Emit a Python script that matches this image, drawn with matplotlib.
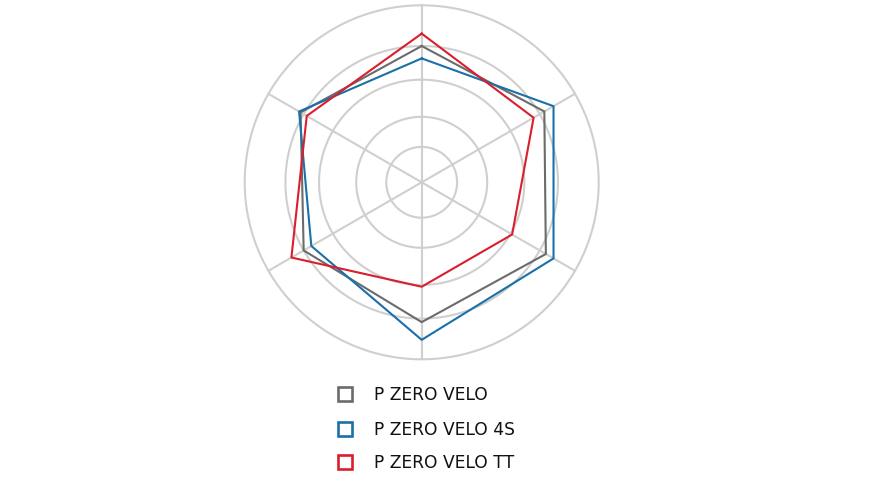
import numpy as np
import matplotlib
matplotlib.use('Agg')
import matplotlib.pyplot as plt

# Dữ liệu (thang 0-100, vòng ngoài = 100), thứ tự: trên, phải-trên, phải-dưới, dưới, trái-dưới, trái-trên
series_names = ['P ZERO VELO', 'P ZERO VELO 4S', 'P ZERO VELO TT']
velo = [77, 80, 81, 79, 77, 79]
velo_4s = [70, 86, 86, 89, 72, 80]
velo_tt = [84, 73, 59, 59, 85, 75]
ring_levels = [20, 37, 58, 77, 100]

colors = ['#6b6b6b', '#1a70a8', '#d91e2d']
values = [velo, velo_4s, velo_tt]

W, H = 870, 489
fig = plt.figure(figsize=(W / 100, H / 100), dpi=100)

cx, cy, R = 421.7, 183.3, 177
ax = fig.add_axes([(cx - R) / W, (H - cy - R) / H, 2 * R / W, 2 * R / H], projection='polar')
ax.set_theta_offset(np.pi / 2)
ax.set_theta_direction(-1)

n = len(velo)
angles = np.arange(n) * 2 * np.pi / n
closed = np.append(angles, angles[0])

# Lưới
grid_col = '#cfcfcf'
th = np.linspace(0, 2 * np.pi, 400)
for r in ring_levels:
    ax.plot(th, np.full_like(th, r), color=grid_col, lw=1.5, zorder=1, clip_on=False)
for a in angles:
    ax.plot([a, a], [0, ring_levels[-1]], color=grid_col, lw=1.5, zorder=1, clip_on=False)

for vals, c in zip(values, colors):
    v = np.append(vals, vals[0])
    ax.plot(closed, v, color=c, lw=1.5, zorder=3)

ax.set_ylim(0, ring_levels[-1])
ax.grid(False)
ax.set_xticks([])
ax.set_yticks([])
ax.spines['polar'].set_visible(False)

# Chú thích
lax = fig.add_axes([0, 0, 1, 1])
lax.set_xlim(0, W)
lax.set_ylim(H, 0)
lax.axis('off')
leg_y = [395, 430, 463]
for name, c, y in zip(series_names, colors, leg_y):
    lax.plot([345], [y], marker='s', ms=10.5, mfc='none', mec=c, mew=1.9)
    lax.text(374, y, name, fontsize=12.3, color='#111111', va='center', ha='left',
             family='DejaVu Sans')

fig.savefig('out.png', dpi=100)
